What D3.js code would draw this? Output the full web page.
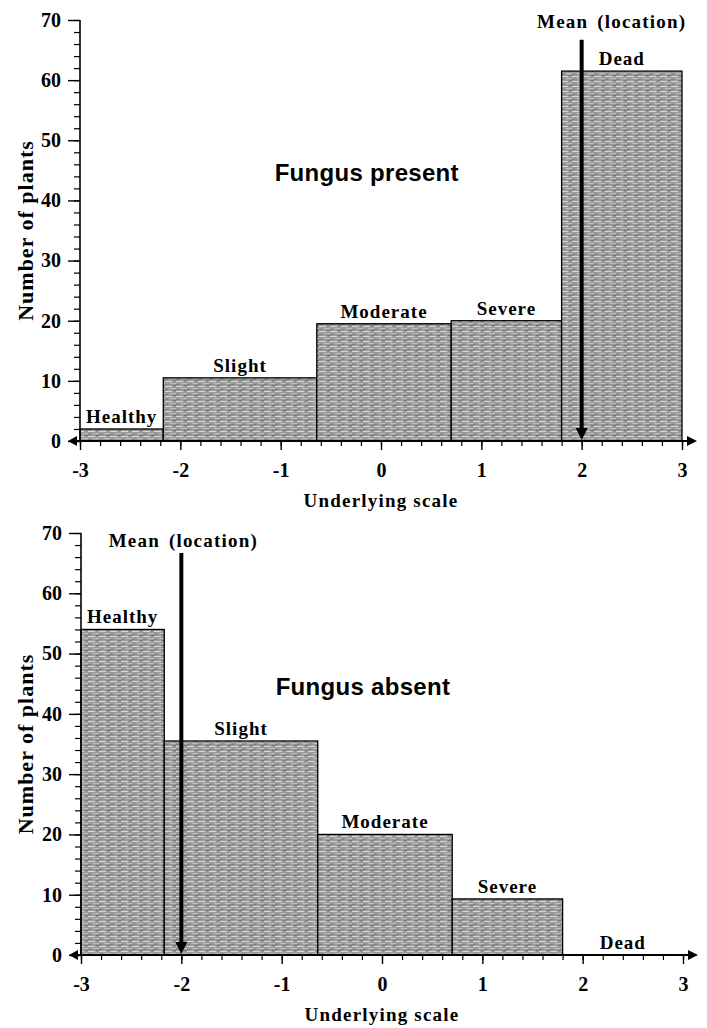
<!DOCTYPE html>
<html>
<head>
<meta charset="utf-8">
<script src="https://cdn.jsdelivr.net/npm/d3@7"></script>
<style>
  body { margin: 0; background: #fff; }
  text { font-family: "Liberation Serif", "Times New Roman", serif; font-weight: bold; fill: #000; }
</style>
</head>
<body>
<div id="viz"></div>
<script>
// severity classes and their cut points on the underlying scale
var categories = ["Healthy", "Slight", "Moderate", "Severe", "Dead"];
var cutPoints = [-3, -2.17, -0.64, 0.70, 1.80, 3];
var presentCounts = [2, 10.5, 19.5, 20, 61.5];
var absentCounts = [54, 35.5, 20, 9.3, 0];
var meanLocations = [2, -2];
var panelTitles = ["Fungus present", "Fungus absent"];
var xTickValues = [-3, -2, -1, 0, 1, 2, 3];
var yTickValues = [0, 10, 20, 30, 40, 50, 60, 70];

var W = 707, H = 1028;

var svg = d3.select("#viz").append("svg")
  .attr("width", W)
  .attr("height", H);

// streaky grey fill like the scanned bars
var defs = svg.append("defs");
var pat = defs.append("pattern")
  .attr("id", "streaks")
  .attr("patternUnits", "userSpaceOnUse")
  .attr("width", 11)
  .attr("height", 5);
pat.append("rect").attr("width", 11).attr("height", 5).attr("fill", "#9a9a9a");
pat.append("line").attr("x1", 0).attr("x2", 7).attr("y1", 1.5).attr("y2", 1.5)
  .attr("stroke", "#d6d6d6").attr("stroke-width", 1);
pat.append("line").attr("x1", 5).attr("x2", 11).attr("y1", 3.5).attr("y2", 3.5)
  .attr("stroke", "#bdbdbd").attr("stroke-width", 1);
pat.append("line").attr("x1", 8).attr("x2", 11).attr("y1", 0.5).attr("y2", 0.5)
  .attr("stroke", "#6e6e6e").attr("stroke-width", 0.8);
pat.append("line").attr("x1", 0).attr("x2", 3).attr("y1", 4.5).attr("y2", 4.5)
  .attr("stroke", "#7a7a7a").attr("stroke-width", 0.8);

var panels = [
  { counts: presentCounts, mean: meanLocations[0], title: panelTitles[0],
    x0: 80, x1: 682, y0: 441, y1: 20, meanDx: 30, meanDy: 8 },
  { counts: absentCounts, mean: meanLocations[1], title: panelTitles[1],
    x0: 81, x1: 683, y0: 955, y1: 533, meanDx: 2, meanDy: 14 }
];

function styleTickText(a) {
  a.selectAll("text").attr("fill", "#000")
    .style("font-size", "20px").style("font-family", "Liberation Serif, serif")
    .style("font-weight", "bold");
}

panels.forEach(function (p) {
  var x = d3.scaleLinear().domain([-3, 3]).range([p.x0, p.x1]);
  var y = d3.scaleLinear().domain([0, 70]).range([p.y0, p.y1]);
  var g = svg.append("g");

  var bars = categories.map(function (c, i) {
    return { name: c, lo: cutPoints[i], hi: cutPoints[i + 1], n: p.counts[i] };
  });

  // bars
  g.selectAll("rect.bar")
    .data(bars.filter(function (d) { return d.n > 0; }))
    .enter().append("rect")
    .attr("class", "bar")
    .attr("x", function (d) { return x(d.lo); })
    .attr("width", function (d) { return x(d.hi) - x(d.lo); })
    .attr("y", function (d) { return y(d.n); })
    .attr("height", function (d) { return y(0) - y(d.n); })
    .attr("fill", "url(#streaks)")
    .attr("stroke", "#000")
    .attr("stroke-width", 1.3);

  // bar labels
  g.selectAll("text.lab")
    .data(bars)
    .enter().append("text")
    .attr("class", "lab")
    .attr("x", function (d) { return x((d.lo + d.hi) / 2); })
    .attr("y", function (d) { return y(d.n) - 6; })
    .attr("text-anchor", "middle")
    .style("font-size", "19px")
    .style("letter-spacing", "1px")
    .text(function (d) { return d.name; });

  // x axis: minor then major ticks
  var xMinor = d3.axisBottom(x).tickValues(d3.range(-30, 31, 2).map(function (v) { return v / 10; }))
    .tickSize(5).tickFormat("");
  g.append("g").attr("transform", "translate(0," + y(0) + ")").call(xMinor)
    .call(function (a) { a.select(".domain").remove(); a.selectAll("line").attr("stroke-width", 1.2); });
  var xMajor = d3.axisBottom(x).tickValues(xTickValues).tickSize(9).tickPadding(13)
    .tickFormat(function (d) { return String(d); });
  g.append("g").attr("transform", "translate(0," + y(0) + ")").call(xMajor)
    .call(function (a) {
      a.select(".domain").remove();
      a.selectAll("line").attr("stroke-width", 1.4);
      styleTickText(a);
    });

  // x axis line with arrows at both ends
  g.append("line")
    .attr("x1", x(-3) - 4).attr("x2", x(3) + 6)
    .attr("y1", y(0)).attr("y2", y(0))
    .attr("stroke", "#000").attr("stroke-width", 2);
  g.append("path")
    .attr("d", "M" + (x(-3) - 12) + "," + y(0) + "l9,-5v10z")
    .attr("fill", "#000");
  g.append("path")
    .attr("d", "M" + (x(3) + 15) + "," + y(0) + "l-10,-5v10z")
    .attr("fill", "#000");

  // y axis
  var yMinor = d3.axisLeft(y).tickValues(d3.range(0, 71, 2)).tickSize(6).tickFormat("");
  g.append("g").attr("transform", "translate(" + x(-3) + ",0)").call(yMinor)
    .call(function (a) { a.select(".domain").remove(); a.selectAll("line").attr("stroke-width", 1.2); });
  var yMajor = d3.axisLeft(y).tickValues(yTickValues).tickSize(12).tickPadding(7)
    .tickFormat(function (d) { return String(d); });
  g.append("g").attr("transform", "translate(" + x(-3) + ",0)").call(yMajor)
    .call(function (a) {
      a.select(".domain").remove();
      a.selectAll("line").attr("stroke-width", 1.4);
      styleTickText(a);
    });
  g.append("line")
    .attr("x1", x(-3)).attr("x2", x(-3))
    .attr("y1", y(0)).attr("y2", y(70))
    .attr("stroke", "#000").attr("stroke-width", 1.6);

  // axis titles
  g.append("text")
    .attr("x", (x(-3) + x(3)) / 2)
    .attr("y", y(0) + 66)
    .attr("text-anchor", "middle")
    .style("font-size", "19px")
    .style("letter-spacing", "1.2px")
    .text("Underlying scale");
  g.append("text")
    .attr("transform", "translate(33," + y(35) + ") rotate(-90)")
    .attr("text-anchor", "middle")
    .style("font-size", "22px")
    .style("letter-spacing", "1px")
    .text("Number of plants");

  // panel title
  g.append("text")
    .attr("x", x(-1.06))
    .attr("y", y(43.2))
    .style("font-size", "24px")
    .style("font-family", "Liberation Sans, Arial, sans-serif")
    .style("letter-spacing", "0.3px")
    .text(p.title);

  // mean arrow
  g.append("line")
    .attr("x1", x(p.mean)).attr("x2", x(p.mean))
    .attr("y1", y(66.7)).attr("y2", y(0) - 10)
    .attr("stroke", "#000").attr("stroke-width", 4);
  g.append("path")
    .attr("d", "M" + x(p.mean) + "," + (y(0) - 1) + "l-6,-12h12z")
    .attr("fill", "#000");
  g.append("text")
    .attr("x", x(p.mean) + p.meanDx)
    .attr("y", y(70) + p.meanDy)
    .attr("text-anchor", "middle")
    .style("font-size", "19px")
    .style("letter-spacing", "1.2px")
    .style("word-spacing", "3px")
    .text("Mean (location)");
});
</script>
</body>
</html>
